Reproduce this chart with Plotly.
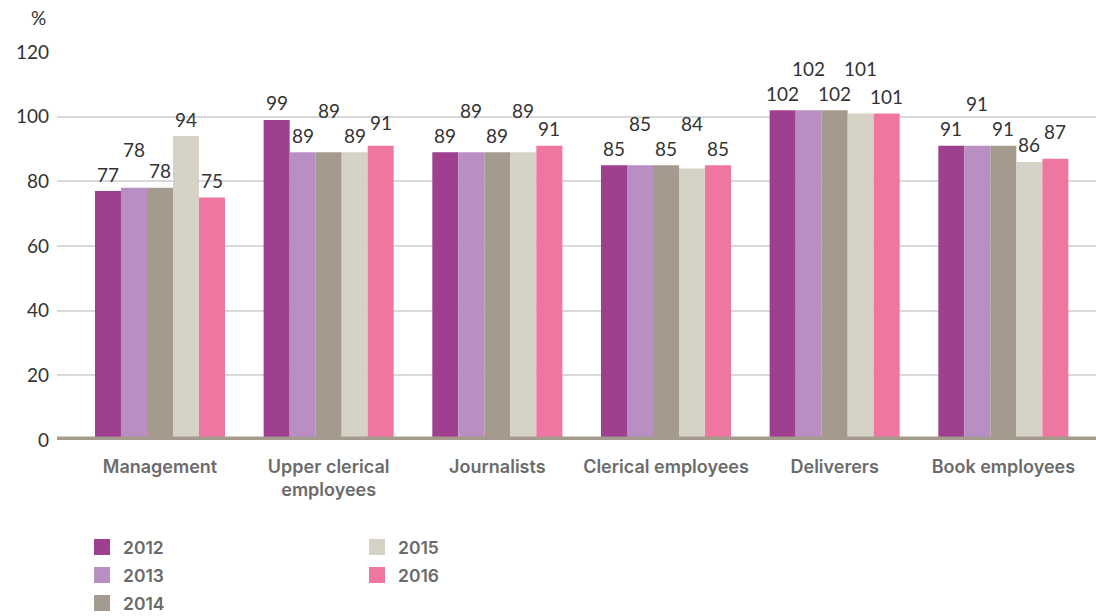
import textwrap
import plotly.graph_objects as go

categories = ["Management", "Upper clerical employees", "Journalists",
              "Clerical employees", "Deliverers", "Book employees"]
years = ["2012", "2013", "2014", "2015", "2016"]
v2012 = [77, 99, 89, 85, 102, 91]
v2013 = [78, 89, 89, 85, 102, 91]
v2014 = [78, 89, 89, 85, 102, 91]
v2015 = [94, 89, 89, 84, 101, 86]
v2016 = [75, 91, 91, 85, 101, 87]
series = [v2012, v2013, v2014, v2015, v2016]
colors = ["#9e3f8f", "#b98fc3", "#a59a8e", "#d6d2c6", "#ef76a0"]
y_ticks = [0, 20, 40, 60, 80, 100, 120]

W, H = 1096, 616
ML, MR, MT, MB = 57, 0, 52, 176
PW, PH = W - ML - MR, H - MT - MB
Y_MAX = 120
K = PH / Y_MAX  # px per unit

NUM_FONT = dict(family="Lato, 'Open Sans', sans-serif", size=19, color="#333333")
LAB_FONT = dict(family="Inter, Lato, sans-serif", size=18, color="#6b6b6b", weight=600)
LEG_FONT = dict(family="Inter, Lato, sans-serif", size=17.5, color="#6b6b6b", weight=600)

fig = go.Figure()
for name, vals, col in zip(years, series, colors):
    fig.add_trace(go.Bar(x=categories, y=vals, name=name, marker=dict(color=col, line=dict(width=0)),
                         showlegend=False, hoverinfo="x+y+name"))

# value labels with simple overlap avoidance
n = len(years)
group_w = 1 - 0.229
bar_w = group_w / n
for ci, cat in enumerate(categories):
    prev_h, prev_raised = None, False
    for si in range(n):
        v = series[si][ci]
        h = v * K + 17
        raised = False
        if prev_h is not None and not prev_raised and abs(h - prev_h) < 8:
            if si == n - 1 and h > prev_h:
                h = prev_h + 13
            else:
                h = prev_h + 25
                raised = True
        prev_h, prev_raised = h, raised
        xoff = (si - (n - 1) / 2) * bar_w
        fig.add_annotation(x=ci + xoff, y=0, xref="x", yref="y", text=str(v), showarrow=False,
                           yshift=h, xanchor="center", yanchor="middle", font=NUM_FONT)

# baseline band
fig.add_shape(type="line", xref="paper", yref="y", x0=0, x1=1, y0=0, y1=0,
              line=dict(color="#a59a8e", width=7), layer="above")

# "%" label
fig.add_annotation(xref="paper", yref="paper", x=(48 - ML) / PW, y=(H - MB - 17) / PH,
                   text="%", showarrow=False, xanchor="right", yanchor="middle",
                   font=dict(family="Lato, sans-serif", size=19, color="#333333"))

# manual legend (column-major, 3 rows)
def px2paper(px, py):
    return (px - ML) / PW, (H - MB - py) / PH

for i, (name, col) in enumerate(zip(years, colors)):
    colx = 94 if i < 3 else 369
    row = i if i < 3 else i - 3
    cy = 547 + 28 * row
    x0, y0 = px2paper(colx, cy - 8)
    x1, y1 = px2paper(colx + 16, cy + 8)
    fig.add_shape(type="rect", xref="paper", yref="paper", x0=x0, x1=x1, y0=y0, y1=y1,
                  fillcolor=col, line=dict(width=0))
    tx, ty = px2paper(colx + 27, cy)
    fig.add_annotation(xref="paper", yref="paper", x=tx, y=ty, text=name, showarrow=False,
                       xanchor="left", yanchor="middle", font=LEG_FONT)

ticktext = ["<br>".join(textwrap.wrap(c, 19)) for c in categories]

fig.update_layout(
    width=W, height=H,
    margin=dict(l=ML, r=MR, t=MT, b=MB),
    paper_bgcolor="white", plot_bgcolor="white",
    barmode="group", bargap=0.229, bargroupgap=0,
    xaxis=dict(type="category", range=[-103 / 168.67, 5 + (W - 160 - 5 * 168.67) / 168.67],
               tickvals=categories, ticktext=ticktext, showgrid=False, zeroline=False,
               showline=False, ticks="", tickfont=LAB_FONT, ticklabelstandoff=14),
    yaxis=dict(range=[0, Y_MAX], tickvals=y_ticks, showgrid=True, gridcolor="#d9d9d9",
               gridwidth=1.5, zeroline=False, showline=False, ticks="",
               tickfont=NUM_FONT, ticklabelstandoff=7),
    font=dict(family="Lato, sans-serif"),
)

fig.write_html("out.html")
